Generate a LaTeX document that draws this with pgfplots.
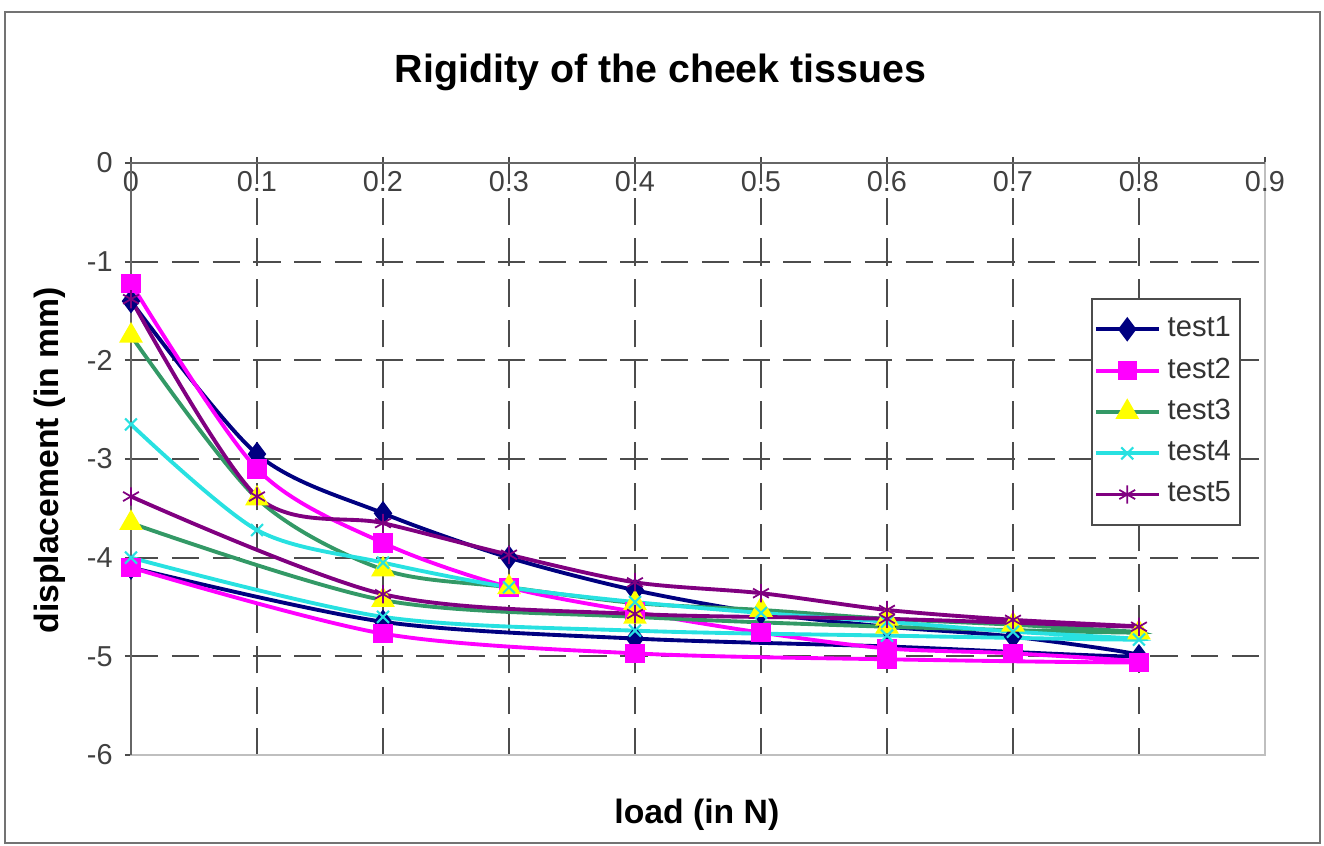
\documentclass[border=0pt]{standalone}
\usepackage{fontspec}
\setmainfont{Liberation Sans}
\usepackage{pgfplots}
\pgfplotsset{compat=1.18}

\definecolor{tnavy}{RGB}{0,0,128}
\definecolor{tmag}{RGB}{255,0,255}
\definecolor{tgreen}{RGB}{51,153,102}
\definecolor{tyel}{RGB}{255,255,0}
\definecolor{tcyan}{RGB}{40,225,225}
\definecolor{tpurp}{RGB}{128,0,128}

\begin{document}
\begin{tikzpicture}
\useasboundingbox (0,0) rectangle (13.24,8.46);
\draw[black!55, line width=0.6pt] (0.05,0.03) rectangle (13.20,8.34);
\begin{axis}[
  at={(1.31cm,0.91cm)}, anchor=south west,
  scale only axis, width=11.34cm, height=5.92cm,
  xmin=0, xmax=0.9, ymin=-6, ymax=0,
  xtick={0,0.1,0.2,0.3,0.4,0.5,0.6,0.7,0.8,0.9},
  ytick={-6,-5,-4,-3,-2,-1,0},
  xtick pos=right, xticklabel pos=right, ytick pos=left,
  xticklabel style={anchor=north, yshift=-0.5pt},
  /pgf/number format/assume math mode=true,
  tick label style={font=\fontsize{8.2}{10}\selectfont, text=black!75},
  tick align=center, major tick length=0.12cm,
  tick style={black!70, line width=0.6pt},
  axis line style={black!25, line width=0.6pt},
  grid=major,
  major grid style={dash pattern=on 7.8pt off 3.8pt, black!70, line width=0.6pt},
  clip=false,
  title={Rigidity of the cheek tissues},
  title style={at={(axis description cs:0.467,1.118)}, anchor=center,
    font=\fontsize{11.2}{13}\selectfont\bfseries},
  xlabel={load (in N)},
  xlabel style={at={(axis description cs:0.499,-0.101)}, anchor=center,
    font=\fontsize{9.6}{11}\selectfont\bfseries},
  ylabel={displacement (in mm)},
  ylabel style={at={(axis description cs:-0.0714,0.498)}, anchor=center, rotate=0,
    font=\fontsize{9.6}{11}\selectfont\bfseries},
  legend style={at={(axis description cs:0.8466,0.772)}, anchor=north west,
    draw=black!70, line width=0.6pt, fill=white,
    font=\fontsize{8.3}{10}\selectfont, text=black!80,
    row sep=0.5pt, inner xsep=0.5pt, inner ysep=3pt},
  legend cell align=left,
  legend image code/.code={\draw[mark repeat=2,mark phase=2]
    plot coordinates {(0cm,0cm) (0.315cm,0cm) (0.63cm,0cm)};},
  every axis plot/.append style={line width=1.1pt, smooth, tension=0.5},
]
\addplot[color=tnavy, mark=diamond*, mark size=2.6pt, mark options={fill=tnavy}] coordinates {
  (0,-1.40) (0.1,-2.95) (0.2,-3.55) (0.3,-4.00) (0.4,-4.33) (0.5,-4.56) (0.6,-4.70)
  (0.7,-4.80) (0.8,-5.00) (0.6,-4.90) (0.4,-4.82) (0.2,-4.65) (0,-4.10)};
\addplot[color=tmag, mark=square*, mark size=2.2pt, mark options={fill=tmag}] coordinates {
  (0,-1.22) (0.1,-3.10) (0.2,-3.85) (0.3,-4.30) (0.4,-4.55) (0.5,-4.76) (0.6,-4.92)
  (0.7,-4.97) (0.8,-5.06) (0.6,-5.03) (0.4,-4.97) (0.2,-4.77) (0,-4.10)};
\addplot[color=tgreen, mark=triangle*, mark size=2.8pt, mark options={fill=tyel, draw=tyel}] coordinates {
  (0,-1.75) (0.1,-3.40) (0.2,-4.12) (0.3,-4.30) (0.4,-4.46) (0.5,-4.53) (0.6,-4.62)
  (0.7,-4.68) (0.8,-4.76) (0.6,-4.70) (0.4,-4.60) (0.2,-4.43) (0,-3.65)};
\addplot[color=tcyan, mark=x, mark size=2.4pt, mark options={line width=0.6pt}] coordinates {
  (0,-2.65) (0.1,-3.72) (0.2,-4.05) (0.3,-4.30) (0.4,-4.45) (0.5,-4.56) (0.6,-4.65)
  (0.7,-4.75) (0.8,-4.83) (0.6,-4.79) (0.4,-4.74) (0.2,-4.60) (0,-4.00)};
\addplot[color=tpurp, mark=asterisk, mark size=2.6pt, mark options={line width=0.5pt}] coordinates {
  (0,-1.38) (0.1,-3.38) (0.2,-3.65) (0.3,-3.97) (0.4,-4.25) (0.5,-4.36) (0.6,-4.53)
  (0.7,-4.63) (0.8,-4.70) (0.6,-4.62) (0.4,-4.57) (0.2,-4.37) (0,-3.38)};
\legend{test1,test2,test3,test4,test5}
\draw[black!60, line width=0.8pt] (axis cs:0,-6) -- (axis cs:0,0) -- (axis cs:0.9,0);
\end{axis}
\end{tikzpicture}
\end{document}
